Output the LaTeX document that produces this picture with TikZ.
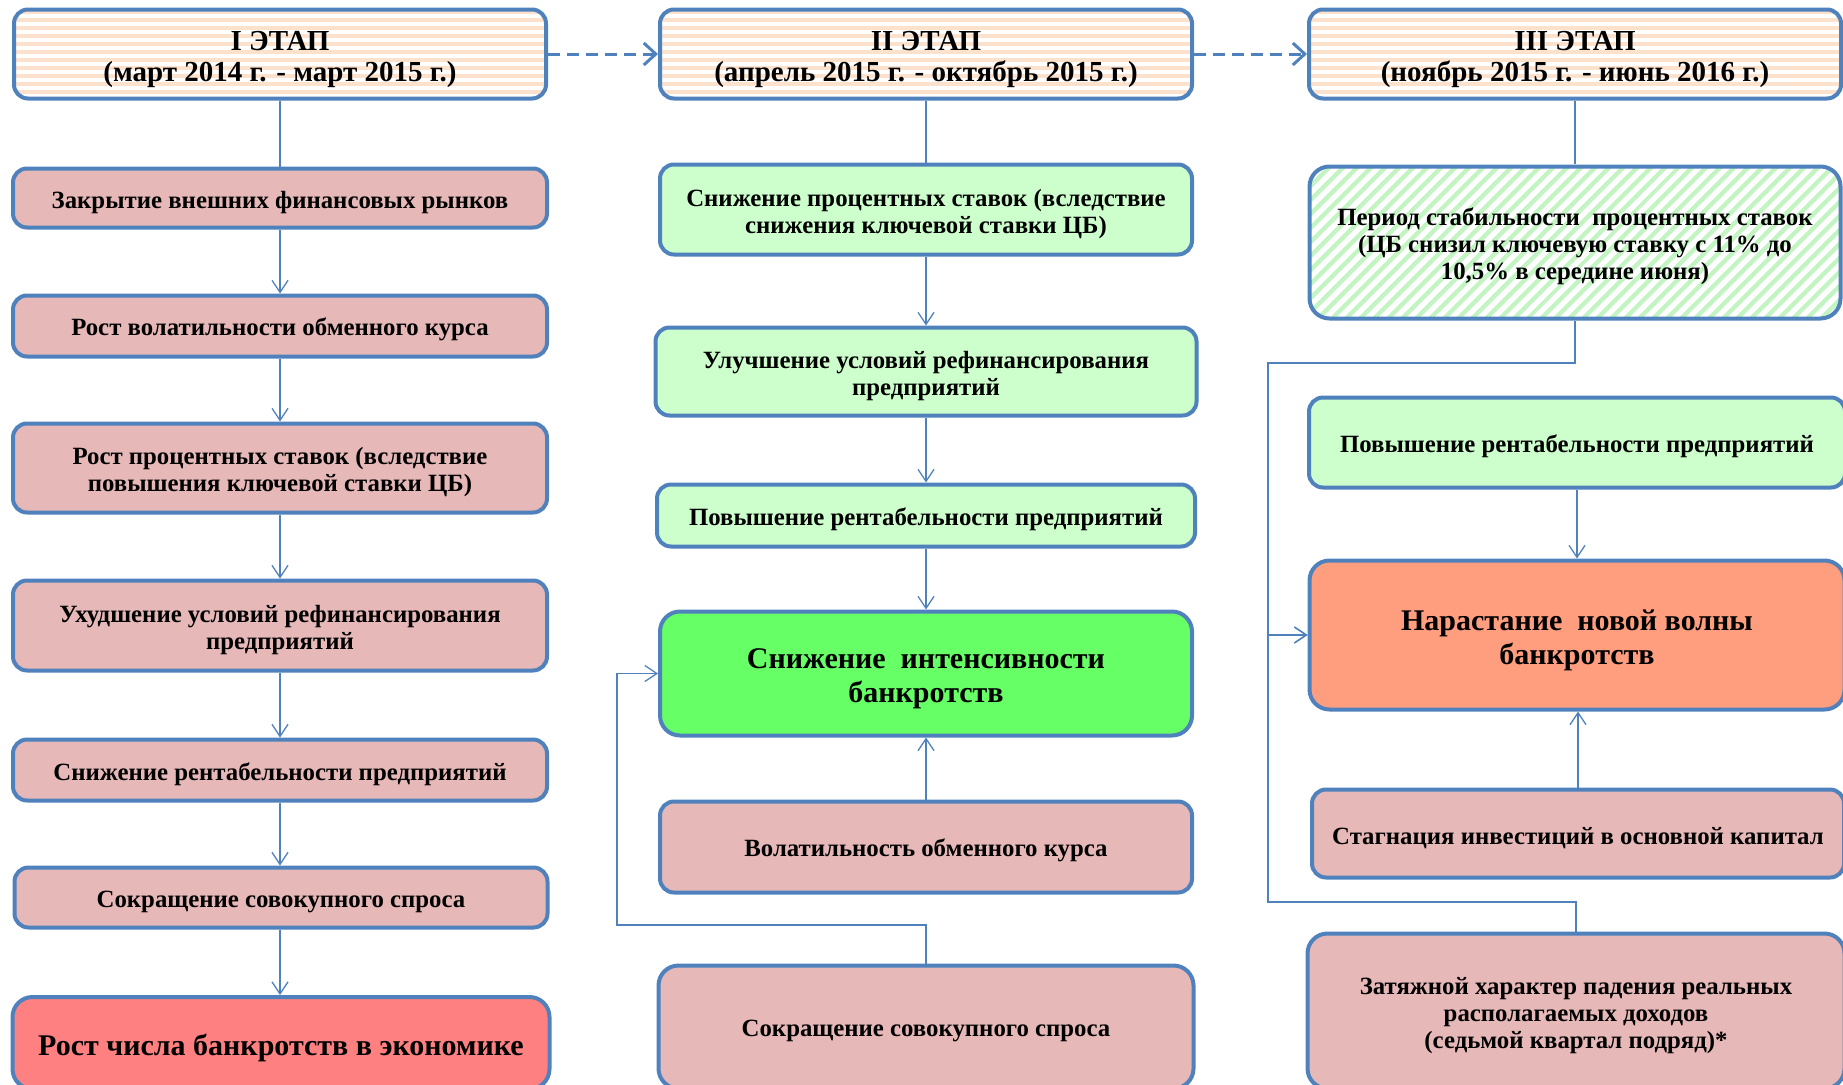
\documentclass[tikz,border=0pt]{standalone}
\usepackage{fontspec}
\setmainfont{Liberation Serif}
\usetikzlibrary{arrows.meta,patterns.meta}
\definecolor{bord}{HTML}{4F81BD}
\definecolor{pinkc}{HTML}{E6B8B7}
\definecolor{lgreen}{HTML}{CCFFCC}
\definecolor{bgreen}{HTML}{66FF66}
\definecolor{redc}{HTML}{FF8080}
\definecolor{salmon}{HTML}{FF9E7E}
\definecolor{peach}{HTML}{FCE2CC}
\definecolor{hatchg}{HTML}{C4F4C4}
\newcommand\ts{\rule{0pt}{1.02em}}
\begin{document}
\begin{tikzpicture}[x=1pt,y=-1pt,
  box/.style={draw=bord, line width=4pt, rounded corners=14pt, align=center,
    font=\fontsize{24.8}{27}\selectfont\bfseries, inner sep=0pt},
  bigtxt/.style={font=\fontsize{30}{34}\selectfont\bfseries, rounded corners=20pt},
  hdr/.style={box, pattern={Lines[angle=0,distance=8pt,line width=4pt]}, pattern color=peach,
    font=\fontsize{29}{31}\selectfont\bfseries, minimum width=532pt, minimum height=89pt},
  conn/.style={draw=bord, line width=1.3pt},
  arr/.style={conn, -{Straight Barb[length=12pt,width=16pt,line width=1.3pt]}},
  darr/.style={draw=bord, line width=3pt, dash pattern=on 12pt off 7pt,
    -{Straight Barb[length=12pt,width=22pt,line width=3pt]}}
]
\useasboundingbox (0,0) rectangle (1843,1084);
\clip (0,0) rectangle (1843,1084);

% ---------- column 1 ----------
\node[hdr] (h1) at (280,54) {\ts I ЭТАП\\(март 2014 г. - март 2015 г.)};
\node[box, fill=pinkc, minimum width=534pt, minimum height=59pt] (a1) at (280,198) {\ts Закрытие внешних финансовых рынков};
\node[box, fill=pinkc, minimum width=534pt, minimum height=61pt] (a2) at (280,326) {\ts Рост волатильности обменного курса};
\node[box, fill=pinkc, minimum width=534pt, minimum height=89pt] (a3) at (280,468) {\ts Рост процентных ставок (вследствие\\повышения ключевой ставки ЦБ)};
\node[box, fill=pinkc, minimum width=534pt, minimum height=90pt] (a4) at (280,625.5) {\ts Ухудшение условий рефинансирования\\предприятий};
\node[box, fill=pinkc, minimum width=534pt, minimum height=61pt] (a5) at (280,770) {\ts Снижение рентабельности предприятий};
\node[box, fill=pinkc, minimum width=533pt, minimum height=60pt] (a6) at (281,897.5) {\ts Сокращение совокупного спроса};
\node[box, bigtxt, fill=redc, minimum width=537pt, minimum height=92pt] (a7) at (281,1043) {\ts Рост числа банкротств в экономике};

% ---------- column 2 ----------
\node[hdr] (h2) at (926,54) {\ts II ЭТАП\\(апрель 2015 г. - октябрь 2015 г.)};
\node[box, fill=lgreen, minimum width=532pt, minimum height=90pt] (b1) at (926,209.5) {\ts Снижение процентных ставок (вследствие\\снижения ключевой ставки ЦБ)};
\node[box, fill=lgreen, minimum width=541pt, minimum height=88pt] (b2) at (926,371.5) {\ts Улучшение условий рефинансирования\\предприятий};
\node[box, fill=lgreen, minimum width=538pt, minimum height=62pt] (b3) at (926,515.5) {\ts Повышение рентабельности предприятий};
\node[box, bigtxt, fill=bgreen, minimum width=532pt, minimum height=124pt] (b4) at (926,673.5) {\ts Снижение \ интенсивности\\банкротств};
\node[box, fill=pinkc, minimum width=532pt, minimum height=91pt] (b5) at (926,847) {\ts Волатильность обменного курса};
\node[box, fill=pinkc, minimum width=535pt, minimum height=123pt, rounded corners=20pt] (b6) at (926,1027) {\ts Сокращение совокупного спроса};

% ---------- column 3 ----------
\node[hdr] (h3) at (1575,54) {\ts III ЭТАП\\(ноябрь 2015 г. - июнь 2016 г.)};
\node[box, rounded corners=20pt, pattern={Lines[angle=45,distance=10.5pt,line width=5pt]}, pattern color=hatchg,
  minimum width=531pt, minimum height=152pt] (c1) at (1575,242.5) {\ts Период стабильности \ процентных ставок\\(ЦБ снизил ключевую ставку с 11\% до\\10,5\% в середине июня)};
\node[box, fill=lgreen, minimum width=536pt, minimum height=90pt] (c2) at (1577,442.5) {\ts Повышение рентабельности предприятий};
\node[box, bigtxt, fill=salmon, minimum width=535pt, minimum height=149pt] (c3) at (1577,635) {\ts Нарастание \ новой волны\\банкротств};
\node[box, fill=pinkc, minimum width=532pt, minimum height=88pt] (c4) at (1578,833.5) {\ts Стагнация инвестиций в основной капитал};
\node[box, rounded corners=20pt, fill=pinkc, minimum width=537pt, minimum height=155pt] (c5) at (1576,1011) {\ts Затяжной характер падения реальных\\располагаемых доходов\\(седьмой квартал подряд)*};

% ---------- stage arrows ----------
\draw[darr] (h1.east) -- (h2.west);
\draw[darr] (h2.east) -- (h3.west);

% ---------- column 1 connectors ----------
\draw[conn] (h1.south) -- (a1.north);
\draw[arr] (a1.south) -- (a2.north);
\draw[arr] (a2.south) -- (a3.north);
\draw[arr] (a3.south) -- (a4.north);
\draw[arr] (a4.south) -- (a5.north);
\draw[arr] (a5.south) -- (a6.north -| a5.south);
\draw[arr] (a6.south -| a5.south) -- (a7.north -| a5.south);

% ---------- column 2 connectors ----------
\draw[conn] (h2.south) -- (b1.north);
\draw[arr] (b1.south) -- (b2.north);
\draw[arr] (b2.south) -- (b3.north);
\draw[arr] (b3.south) -- (b4.north);
\draw[arr] (b5.north) -- (b4.south);
\coordinate (jc) at (617,925);
\draw[arr] (b6.north) |- (jc) |- (b4.west);

% ---------- column 3 connectors ----------
\draw[conn] (h3.south) -- (c1.north);
\coordinate (jt) at (1268,363);
\coordinate (jb) at (1268,902);
\draw[arr] (c1.south) |- (jt) |- (c3.west);
\draw[arr] (c5.north) |- (jb) |- (c3.west);
\draw[arr] (c2.south) -- (c3.north -| c2.south);
\draw[arr] (c4.north) -- (c3.south -| c4.north);
\end{tikzpicture}
\end{document}
